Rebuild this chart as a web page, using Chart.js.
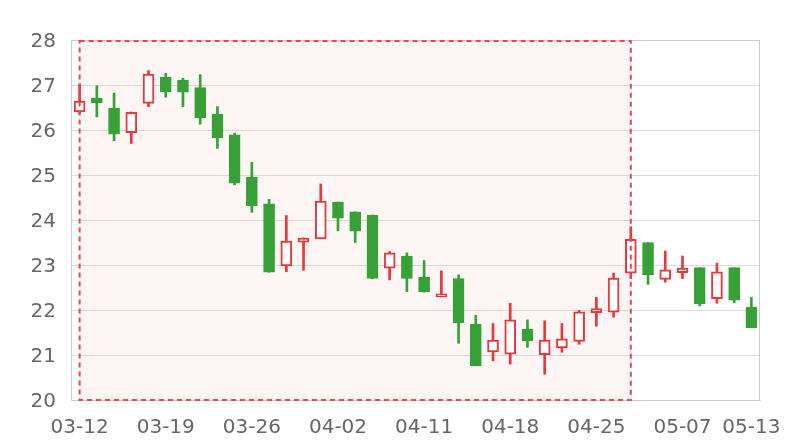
<!DOCTYPE html>
<html>
<head>
<meta charset="utf-8">
<script src="https://cdn.jsdelivr.net/npm/chart.js@4/dist/chart.umd.min.js"></script>
<style>
    body { margin: 0; background: #fff; }
    #wrap { width: 800px; height: 440px; }
</style>
</head>
<body>
<div id="wrap"><canvas id="kline" width="800" height="440"></canvas></div>
<script>
const dates = ['03-12', '03-13', '03-14', '03-15', '03-16', '03-19', '03-20', '03-21', '03-22', '03-23',
    '03-26', '03-27', '03-28', '03-29', '03-30', '04-02', '04-03', '04-04', '04-09', '04-10',
    '04-11', '04-12', '04-13', '04-16', '04-17', '04-18', '04-19', '04-20', '04-23', '04-24',
    '04-25', '04-26', '04-27', '05-03', '05-04', '05-07', '05-08', '05-09', '05-10', '05-13'];
const opens = [26.40, 26.71, 26.48, 25.94, 26.59, 27.17, 27.11, 26.94, 26.35, 25.89,
    24.95, 24.36, 22.98, 23.51, 23.58, 24.40, 24.18, 24.11, 22.93, 23.20,
    22.73, 22.29, 22.70, 21.68, 21.07, 21.02, 21.57, 21.01, 21.16, 21.30,
    21.94, 21.95, 22.82, 23.50, 22.68, 22.83, 22.94, 22.25, 22.94, 22.06];
const closes = [26.64, 26.61, 25.91, 26.39, 27.24, 26.85, 26.84, 26.27, 25.83, 24.82,
    24.32, 22.84, 23.53, 23.60, 24.42, 24.04, 23.75, 22.70, 23.27, 22.70,
    22.40, 22.36, 21.72, 20.76, 21.33, 21.78, 21.32, 21.33, 21.36, 21.96,
    22.03, 22.71, 23.57, 22.78, 22.89, 22.93, 22.14, 22.85, 22.22, 21.61];
const lows = [26.36, 26.29, 25.76, 25.70, 26.52, 26.73, 26.52, 26.13, 25.59, 24.78,
    24.17, 22.84, 22.85, 22.88, 23.58, 23.76, 23.50, 22.70, 22.67, 22.41,
    22.40, 22.29, 21.26, 20.76, 20.87, 20.80, 21.17, 20.57, 21.06, 21.24,
    21.64, 21.84, 22.70, 22.57, 22.62, 22.70, 22.09, 22.15, 22.16, 21.61];
const highs = [27.02, 26.98, 26.82, 26.40, 27.32, 27.26, 27.15, 27.23, 26.52, 25.93,
    25.28, 24.46, 24.10, 23.60, 24.80, 24.40, 24.18, 24.11, 23.30, 23.27,
    23.10, 22.87, 22.78, 21.88, 21.70, 22.15, 21.78, 21.76, 21.70, 21.99,
    22.28, 22.82, 23.85, 23.50, 23.31, 23.20, 22.94, 23.04, 22.94, 22.28];
const yTicks = [20, 21, 22, 23, 24, 25, 26, 27, 28];
const labelIdx = [0, 5, 10, 15, 20, 25, 30, 35, 39];
const markRange = ['03-12', '04-27'];

const RED = '#e8383d';
const GREEN = '#37a137';

function isUp(i) {
    return closes[i] >= opens[i];
}

// shaded area with dashed border, like a markArea
const markAreaPlugin = {
    id: 'markArea',
    beforeDatasetsDraw(chart) {
        const ctx = chart.ctx;
        const x = chart.scales.x;
        const area = chart.chartArea;
        const x0 = x.getPixelForValue(dates.indexOf(markRange[0]));
        const x1 = x.getPixelForValue(dates.indexOf(markRange[1]));
        ctx.save();
        ctx.fillStyle = 'rgba(240, 120, 120, 0.07)';
        ctx.fillRect(x0, area.top, x1 - x0, area.bottom - area.top);
        ctx.restore();
    },
    afterDatasetsDraw(chart) {
        const ctx = chart.ctx;
        const x = chart.scales.x;
        const area = chart.chartArea;
        const x0 = x.getPixelForValue(dates.indexOf(markRange[0]));
        const x1 = x.getPixelForValue(dates.indexOf(markRange[1]));
        ctx.save();
        // gray frame around plot
        ctx.strokeStyle = '#cccccc';
        ctx.lineWidth = 1;
        ctx.strokeRect(area.left + 0.5, area.top + 0.5, area.right - area.left - 1, area.bottom - area.top);
        ctx.strokeStyle = '#e8474b';
        ctx.lineWidth = 2;
        ctx.setLineDash([5, 4]);
        ctx.strokeRect(x0, area.top + 1, x1 - x0, area.bottom - area.top - 1);
        ctx.restore();
    }
};

function draw_kline() {
    const canvas = document.getElementById('kline').getContext('2d');
    const bodies = opens.map((o, i) => [o, closes[i]]);
    const wicks = lows.map((l, i) => [l, highs[i]]);
    const colors = dates.map((d, i) => isUp(i) ? RED : GREEN);

    const data = {
        labels: dates,
        datasets: [{
            data: bodies,
            grouped: false,
            barThickness: 11,
            backgroundColor: dates.map((d, i) => isUp(i) ? '#ffffff' : GREEN),
            borderColor: colors,
            borderWidth: 2,
            borderSkipped: false
        }, {
            data: wicks,
            grouped: false,
            barThickness: 2,
            backgroundColor: colors,
            borderWidth: 0
        }]
    };

    const config = {
        type: 'bar',
        data: data,
        options: {
            responsive: false,
            animation: false,
            layout: { padding: { top: 40, right: 40, left: 0, bottom: 0 } },
            plugins: {
                legend: { display: false },
                tooltip: { enabled: false }
            },
            scales: {
                x: {
                    grid: { display: false, drawTicks: false },
                    border: { color: '#cccccc' },
                    afterFit: (s) => { s.height = 40; },
                    ticks: {
                        autoSkip: false,
                        maxRotation: 0,
                        padding: 16,
                        color: '#666666',
                        font: { family: 'DejaVu Sans', size: 20 },
                        callback: (v, i) => labelIdx.includes(i) ? dates[i] : ''
                    }
                },
                y: {
                    min: yTicks[0],
                    max: yTicks[yTicks.length - 1],
                    afterFit: (s) => { s.width = 71; },
                    afterBuildTicks: (s) => { s.ticks = yTicks.map(v => ({ value: v })); },
                    grid: { color: '#dddddd', drawTicks: false },
                    border: { color: '#cccccc' },
                    ticks: {
                        padding: 15,
                        labelOffset: 2,
                        color: '#666666',
                        font: { family: 'DejaVu Sans', size: 20 }
                    }
                }
            }
        },
        plugins: [markAreaPlugin]
    };

    const myChart = new Chart(canvas, config);
}

draw_kline();
</script>
</body>
</html>
